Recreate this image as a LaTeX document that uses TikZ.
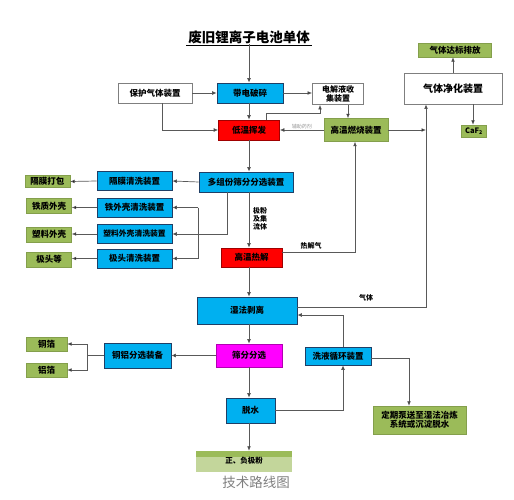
\documentclass[tikz,border=0pt]{standalone}
\usepackage{fontspec}
\setmainfont{Noto Sans CJK SC}
\usetikzlibrary{arrows.meta,calc}
\definecolor{cyanf}{HTML}{00B0F0}
\definecolor{cyanb}{HTML}{1F3F66}
\definecolor{redf}{HTML}{FF0000}
\definecolor{redb}{HTML}{A00000}
\definecolor{magf}{HTML}{FF00FF}
\definecolor{grnf}{HTML}{9BBB59}
\definecolor{grnl}{HTML}{C3D69B}
\definecolor{wireg}{HTML}{595959}
\definecolor{boxg}{HTML}{7F7F7F}
\tikzset{
  base/.style={inner sep=0pt, align=center, font=\bfseries\fontsize{8.5}{9.5}\selectfont},
  cbox/.style={base, draw=cyanb, fill=cyanf, line width=0.7pt},
  rbox/.style={base, draw=redb, fill=redf, line width=0.7pt},
  mbox/.style={base, draw=magf!70!black, fill=magf, line width=0.7pt},
  gbox/.style={base, fill=grnf, draw=grnf!85!black, line width=0.4pt},
  wbox/.style={base, draw=boxg, fill=white, line width=0.8pt},
  lab/.style={inner sep=0pt, align=center, font=\bfseries\fontsize{7}{8}\selectfont},
  wire/.style={draw=wireg, line width=0.7pt},
  arr/.style={wire, -{Latex[length=4.5pt,width=3.8pt,fill=black]}},
}
\begin{document}
\begin{tikzpicture}[x=1pt,y=-1pt]
\useasboundingbox (0,0) rectangle (514,500);
\coordinate (sp) at (249,0);
% title
\node[inner sep=0pt, font=\bfseries\fontsize{13.5}{15}\selectfont] (title) at (249,37.5) {废旧锂离子电池单体};
\draw[black, line width=0.6pt] (186,45) -- (312,45);
% top row
\node[wbox, minimum width=74, minimum height=20] (protect) at (155,93) {保护气体装置};
\node[cbox, minimum width=66, minimum height=20] (crush) at (250,93) {带电破碎};
\node[wbox, minimum width=51, minimum height=21, font=\bfseries\fontsize{8}{9}\selectfont] (elec) at (338,94) {电解液收\\集装置};
\node[rbox, minimum width=61, minimum height=20] (lowt) at (249,130) {低温挥发};
\node[gbox, minimum width=64, minimum height=23] (burn) at (356,130) {高温燃烧装置};
\node[wbox, minimum width=98, minimum height=31, font=\bfseries\fontsize{10}{11}\selectfont] (purify) at (453,88.5) {气体净化装置};
\node[gbox, minimum width=73, minimum height=14] (emit) at (455,50) {气体达标排放};
\node[gbox, minimum width=25, minimum height=12, font=\bfseries\fontsize{7.5}{8}\selectfont] (caf) at (474,131) {CaF\textsubscript{2}};
% sorting
\node[cbox, minimum width=94, minimum height=20] (multi) at (246,182) {多组份筛分分选装置};
\node[cbox, minimum width=75, minimum height=19] (diawash) at (134.5,181) {隔膜清洗装置};
\node[cbox, minimum width=75, minimum height=19] (fewash) at (134.5,207.5) {铁外壳清洗装置};
\node[cbox, minimum width=75, minimum height=19, font=\bfseries\fontsize{7.8}{9}\selectfont] (plwash) at (134.5,234) {塑料外壳清洗装置};
\node[cbox, minimum width=75, minimum height=19] (tipwash) at (134.5,258.5) {极头清洗装置};
\node[gbox, minimum width=45, minimum height=12] (diapack) at (47.5,181.5) {隔膜打包};
\node[gbox, minimum width=45, minimum height=15] (feshell) at (49,206) {铁质外壳};
\node[gbox, minimum width=45, minimum height=15] (plshell) at (49,234.5) {塑料外壳};
\node[gbox, minimum width=45, minimum height=15] (tips) at (49,259.5) {极头等};
\node[lab] (powlab) at (260,218.5) {极粉\\及集\\流体};
\node[rbox, minimum width=61, minimum height=19] (pyro) at (251.5,257.5) {高温热解};
\node[lab] (pyrolab) at (311,246) {热解气};
% wet part
\node[cbox, minimum width=100, minimum height=27] (wet) at (247,310.5) {湿法剥离};
\node[lab] (gaslab) at (366,298) {气体};
\node[mbox, minimum width=66, minimum height=23] (sieve) at (249,355.5) {筛分分选};
\node[cbox, minimum width=67, minimum height=25] (cual) at (137.5,355.5) {铜铝分选装备};
\node[gbox, minimum width=41, minimum height=14] (cu) at (46.5,344) {铜箔};
\node[gbox, minimum width=41, minimum height=14] (al) at (46.5,370) {铝箔};
\node[cbox, minimum width=66, minimum height=18] (washloop) at (338,356) {洗液循环装置};
\node[cbox, minimum width=49, minimum height=25] (dew) at (250.5,410.5) {脱水};
\node[gbox, minimum width=93, minimum height=28] (period) at (419.5,420) {定期泵送至湿法冶炼\\系统或沉淀脱水};
% output
\node[inner sep=0pt, fill=grnl, minimum width=96, minimum height=21] (out) at (244,461.5) {};
\fill[grnf] (out.north west) rectangle ($(out.north east)+(0,6)$);
\node[lab, font=\bfseries\fontsize{7.5}{8}\selectfont] (outlab) at (244,461) {正、负极粉};
\node[inner sep=0pt, text=gray, font=\fontsize{13.5}{15}\selectfont] (route) at (256,482) {技术路线图};
% coordinates
\coordinate (j1) at (426,130);
\coordinate (bk1) at (198,207.5);
\coordinate (bk2) at (198,258.5);
\coordinate (bk3) at (87,355.5);
% connectors top
\draw[arr] (title.south -| sp) -- (crush.north -| sp);
\draw[arr] (protect.east) -- (crush.west);
\draw[arr] ([xshift=7]protect.south) |- (lowt.west);
\draw[arr] (crush.east) -- (elec.west |- crush.east);
\draw[arr] (crush.south -| sp) -- (lowt.north -| sp);
\draw[arr] ([xshift=17]lowt.north) -- ++(0,-6) -| ([xshift=-18]elec.south);
\draw[arr] ([xshift=10]elec.south) -- ([xshift=10]elec.south |- burn.north);
\draw[arr] (burn.west) -- (lowt.east) node[midway, above=1pt, inner sep=0pt, text=gray!80, font=\fontsize{5}{6}\selectfont] {辅助药剂};
\draw[arr] (burn.east) -- (j1);
\draw[arr] ([yshift=3.5]wet.east) -| ([xshift=-27]purify.south);
\draw[arr] (purify.north) -- (purify.north |- emit.south);
\draw[arr] ([xshift=20]purify.south) -- ([xshift=20]purify.south |- caf.north);
% sorting connectors
\draw[arr] (lowt.south -| sp) -- (multi.north -| sp);
\draw[arr] (multi.west) -- (diawash.east);
\draw[arr] ([xshift=-19]multi.south) |- (plwash.east);
\draw[wire] (bk1) -- (bk2);
\draw[arr] (bk1) -- (fewash.east);
\draw[arr] (bk2) -- (tipwash.east);
\draw[arr] (diawash.west) -- (diapack.east);
\draw[arr] (fewash.west) -- (feshell.east |- fewash.west);
\draw[arr] (plwash.west) -- (plshell.east |- plwash.west);
\draw[arr] (tipwash.west) -- (tips.east |- tipwash.west);
\draw[arr] (multi.south -| sp) -- (pyro.north -| sp);
\draw[arr] ([yshift=5.5]pyro.east) -| ([xshift=-1]burn.south);
% wet connectors
\draw[arr] (pyro.south -| sp) -- (wet.north -| sp);
\draw[arr] (wet.south -| sp) -- (sieve.north -| sp);
\draw[arr] (sieve.west) -- (cual.east);
\draw[wire] (cual.west) -- (bk3);
\draw[arr] (bk3) |- (cu.east);
\draw[arr] (bk3) |- (al.east);
\draw[arr] (sieve.south -| sp) -- (dew.north -| sp);
\draw[arr] (dew.east) -| ([xshift=5]washloop.south);
\draw[arr] ([xshift=5]washloop.north) |- ([yshift=-4.5]wet.east);
\draw[arr] ([yshift=-2]washloop.east) -| ([xshift=-10.5]period.north);
\draw[arr] (dew.south -| sp) -- (out.north -| sp);
\end{tikzpicture}
\end{document}
